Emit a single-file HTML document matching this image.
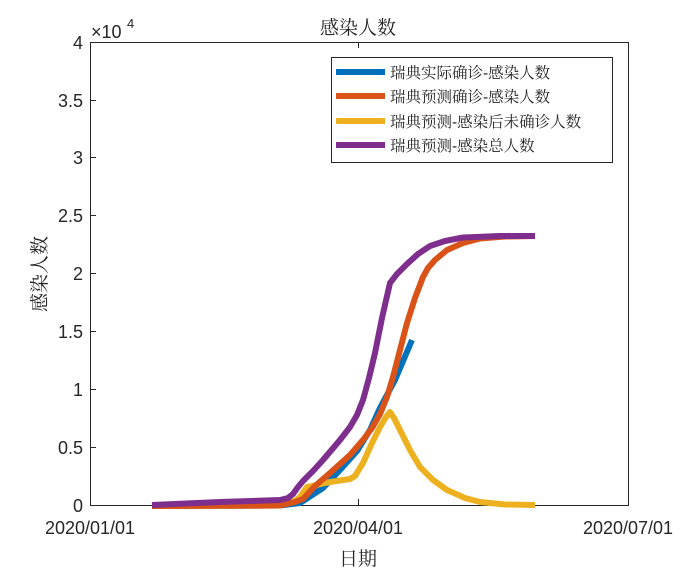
<!DOCTYPE html>
<html><head><meta charset="utf-8"><style>
body{margin:0;background:#fff}
svg{display:block}
text{font-family:"Liberation Sans","Noto Serif CJK SC",serif;fill:#262626}
</style></head><body>
<svg width="693" height="575" viewBox="0 0 693 575">
<rect width="693" height="575" fill="#fff"/>
<g stroke="#262626" stroke-width="1" fill="none">
<rect x="90.5" y="42.5" width="538" height="463"/>
</g>
<g stroke="#262626" stroke-width="1">
<line x1="358.5" y1="505" x2="358.5" y2="499"/><line x1="358.5" y1="43" x2="358.5" y2="48"/>
<line x1="91" y1="447.5" x2="96" y2="447.5"/><line x1="91" y1="389.5" x2="96" y2="389.5"/>
<line x1="91" y1="331.5" x2="96" y2="331.5"/><line x1="91" y1="273.5" x2="96" y2="273.5"/>
<line x1="91" y1="215.5" x2="96" y2="215.5"/><line x1="91" y1="157.5" x2="96" y2="157.5"/>
<line x1="91" y1="100.5" x2="96" y2="100.5"/>
</g>
<g font-size="18" text-anchor="end">
<text x="83" y="512">0</text><text x="83" y="454">0.5</text><text x="83" y="396">1</text>
<text x="83" y="338">1.5</text><text x="83" y="280">2</text><text x="83" y="222">2.5</text>
<text x="83" y="164">3</text><text x="83" y="107">3.5</text><text x="83" y="49">4</text>
</g>
<text x="91" y="38" font-size="18">×10</text><text x="127" y="28" font-size="13">4</text>
<g font-size="18" text-anchor="middle">
<text x="90" y="534">2020/01/01</text><text x="358" y="534">2020/04/01</text><text x="628" y="534">2020/07/01</text>
</g>
<text x="358" y="565" font-size="19" text-anchor="middle">日期</text>
<text x="358" y="34" font-size="19" text-anchor="middle">感染人数</text>
<text transform="translate(46,274) rotate(-90)" font-size="19" text-anchor="middle">感染人数</text>
<g fill="none" stroke-width="6" stroke-linejoin="round">
<path stroke="#0072BD" d="M152,506 L280,505.5 L300,503 L323,488 L340,470 L357,451 L370,430 L380,408 L395,380 L412,340"/>
<path stroke="#EDB120" d="M152,506 L280,505.5 L295,501 L300,497 L307,487 L330,482 L350,479 L355,476 L363,463 L372,443 L380,427 L386,417 L390,412 L394,418 L400,430 L410,450 L420,467 L433,480 L447,490 L465,498 L480,502 L505,504.5 L535,505"/>
<path stroke="#D95319" d="M152,506 L280,505.5 L295,502 L303,499 L315,486 L330,473 L350,455 L363,440 L372,428 L380,414 L387,397 L393,377 L400,350 L407,323 L415,298 L423,277 L428,268 L435,260 L447,250 L463,243 L480,238.5 L505,236.5 L535,236"/>
<path stroke="#7E2F8E" d="M152,505 L220,502 L280,500 L288,498 L293,494 L298,487 L303,481 L313,471 L323,460 L340,440 L350,427 L357,415 L363,400 L369,378 L375,353 L382,318 L390,283 L397,274 L407,264 L418,254 L430,246 L445,241 L463,237.5 L500,236 L535,236"/>
</g>
<rect x="331.5" y="57.5" width="281" height="105" fill="#fff" stroke="#262626" stroke-width="1"/>
<g stroke-width="6">
<line x1="336" y1="72" x2="385" y2="72" stroke="#0072BD"/>
<line x1="336" y1="96" x2="385" y2="96" stroke="#D95319"/>
<line x1="336" y1="121" x2="385" y2="121" stroke="#EDB120"/>
<line x1="336" y1="145" x2="385" y2="145" stroke="#7E2F8E"/>
</g>
<g font-size="15.5">
<text x="390" y="78">瑞典实际确诊-感染人数</text>
<text x="390" y="102">瑞典预测确诊-感染人数</text>
<text x="390" y="127">瑞典预测-感染后未确诊人数</text>
<text x="390" y="151">瑞典预测-感染总人数</text>
</g>
</svg>
</body></html>
